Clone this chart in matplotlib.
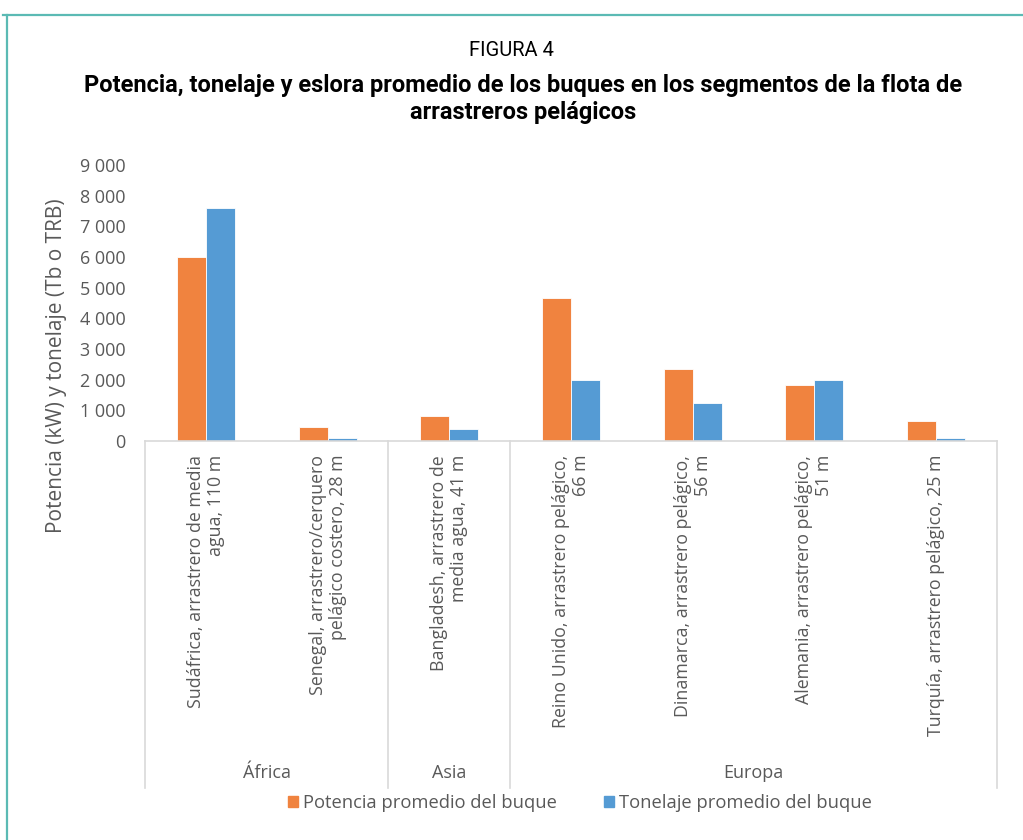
import matplotlib
matplotlib.use("Agg")
import matplotlib.pyplot as plt
from matplotlib.lines import Line2D
import numpy as np

# Data
categories = [
    "Sudáfrica, arrastrero de media\nagua, 110 m",
    "Senegal, arrastrero/cerquero\npelágico costero, 28 m",
    "Bangladesh, arrastrero de\nmedia agua, 41 m",
    "Reino Unido, arrastrero pelágico,\n66 m",
    "Dinamarca, arrastrero pelágico,\n56 m",
    "Alemania, arrastrero pelágico,\n51 m",
    "Turquía, arrastrero pelágico, 25 m",
]
groups = ["África", "Asia", "Europa"]
group_sizes = [2, 1, 4]
potencia = [6000, 450, 820, 4670, 2360, 1830, 660]
tonelaje = [7600, 100, 400, 2000, 1240, 2000, 100]
series_names = ["Potencia promedio del buque", "Tonelaje promedio del buque"]
yticks = [0, 1000, 2000, 3000, 4000, 5000, 6000, 7000, 8000, 9000]
ytick_labels = ["0", "1 000", "2 000", "3 000", "4 000", "5 000", "6 000",
                "7 000", "8 000", "9 000"]

ORANGE = "#F0833F"
BLUE = "#559BD4"
GREY_TXT = "#595959"
GREY_LINE = "#D9D9D9"
TEAL = "#5BBAB4"

sans = ["Open Sans", "DejaVu Sans"]
title_font = ["Roboto", "DejaVu Sans"]

fig = plt.figure(figsize=(10.23, 8.4), dpi=100)
ax = fig.add_axes([145 / 1023, 1 - 441 / 840, (997 - 145) / 1023, (441 - 165) / 840])

x = np.arange(len(categories))
w = 0.238
ax.bar(x - w / 2, potencia, w, color=ORANGE, edgecolor="white", linewidth=0.6,
       label=series_names[0], zorder=2)
ax.bar(x + w / 2, tonelaje, w, color=BLUE, edgecolor="white", linewidth=0.6,
       label=series_names[1], zorder=2)

ax.set_xlim(-0.5, len(categories) - 0.5)
ax.set_ylim(0, 9000)
ax.set_yticks(yticks)
ax.set_yticklabels(ytick_labels, family=sans, fontsize=13, color=GREY_TXT)
ax.tick_params(axis="y", length=0, pad=14)

ax.set_xticks(x)
ax.set_xticklabels(categories, rotation=90, family=sans, fontsize=12.8,
                   color=GREY_TXT, va="top", ha="center", multialignment="right",
                   linespacing=1.15)
ax.tick_params(axis="x", length=0, pad=10)

for s in ["left", "right", "top"]:
    ax.spines[s].set_visible(False)
ax.spines["bottom"].set_color(GREY_LINE)
ax.spines["bottom"].set_linewidth(1.2)

# Group separators and group names below the category labels
trans = ax.get_xaxis_transform()
y_bottom = -(788 - 441) / 276
y_group = -(773 - 441) / 276
bounds = np.concatenate([[0], np.cumsum(group_sizes)]) - 0.5
for b in bounds:
    ax.add_line(Line2D([b, b], [0, y_bottom], transform=trans, color=GREY_LINE,
                       linewidth=1.2, clip_on=False))
for g, lo, hi in zip(groups, bounds[:-1], bounds[1:]):
    ax.text((lo + hi) / 2, y_group, g, transform=trans, ha="center", va="center",
            family=sans, fontsize=13, color=GREY_TXT)

# Axis title
fig.text(57 / 1023, 1 - 366 / 840, "Potencia (kW) y tonelaje (Tb o TRB)",
         rotation=90, ha="center", va="center", family=sans, fontsize=15,
         color=GREY_TXT)

# Legend
handles = [plt.Rectangle((0, 0), 1, 1, color=ORANGE),
           plt.Rectangle((0, 0), 1, 1, color=BLUE)]
fig.legend(handles, series_names, loc="center", bbox_to_anchor=(580 / 1023, 1 - 803 / 840),
           ncol=2, frameon=False, prop={"family": sans, "size": 13.2},
           labelcolor=GREY_TXT, handlelength=0.55, handleheight=0.55,
           handletextpad=0.25, columnspacing=2.6)

# Titles
fig.text(0.5, 1 - 50 / 840, "FIGURA 4", ha="center", va="center",
         family=title_font, fontsize=14.5, color="black")
fig.text(523 / 1023, 1 - 99 / 840,
         "Potencia, tonelaje y eslora promedio de los buques en los segmentos de la flota de\narrastreros pelágicos",
         ha="center", va="center", family=title_font, fontsize=17, fontweight="bold",
         color="black", linespacing=1.2)

# Frame lines
fig.add_artist(Line2D([3 / 1023, 1], [1 - 15 / 840] * 2, transform=fig.transFigure,
                      color=TEAL, linewidth=1.6))
fig.add_artist(Line2D([7 / 1023] * 2, [1 - 15 / 840, 0], transform=fig.transFigure,
                      color=TEAL, linewidth=1.6))

fig.savefig("out.png", dpi=100)
